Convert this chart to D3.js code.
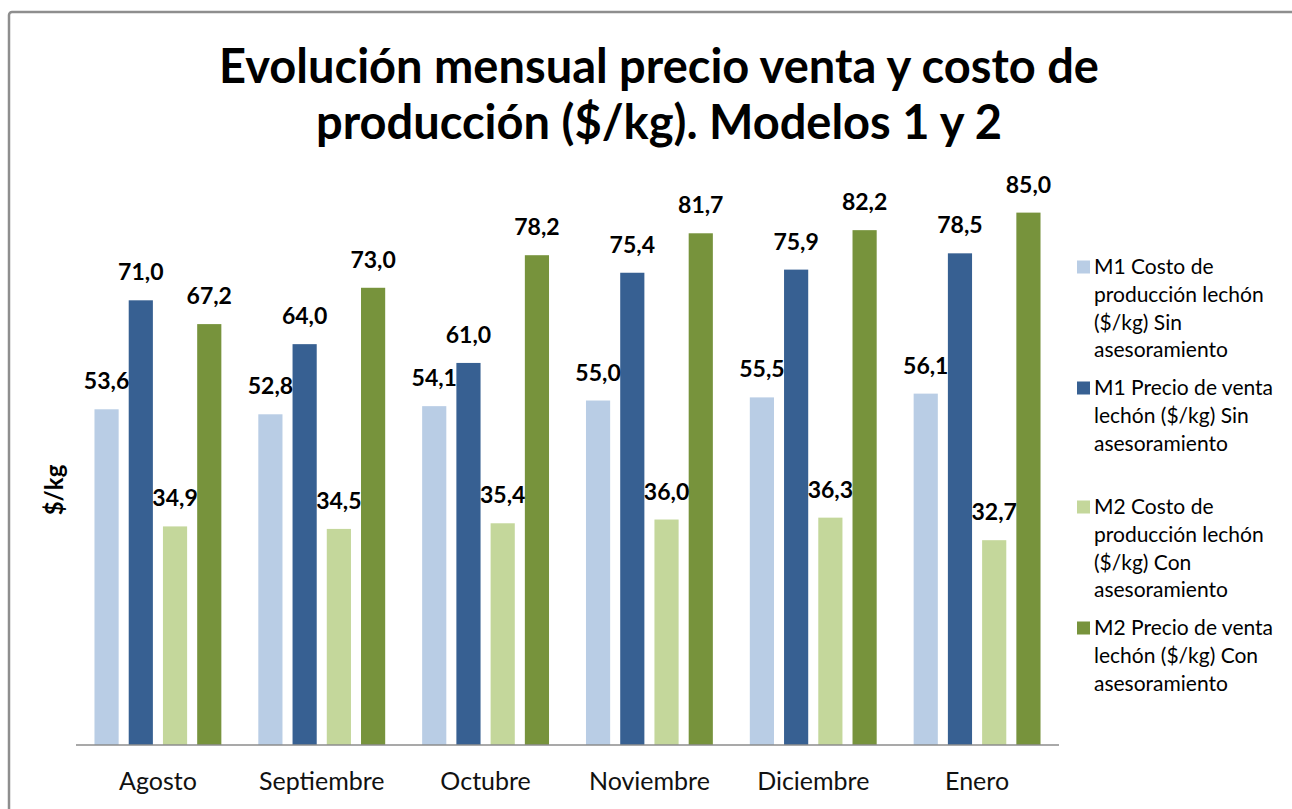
<!DOCTYPE html>
<html>
<head>
<meta charset="utf-8">
<script src="https://cdn.jsdelivr.net/npm/d3@7"></script>
<style>
  body { margin: 0; background: #fff; }
  svg { display: block; font-family: Lato, "Open Sans", sans-serif; }
</style>
</head>
<body>
<div id="chart-area"></div>
<script>
// data
var months = ["Agosto", "Septiembre", "Octubre", "Noviembre", "Diciembre", "Enero"];
var m1Costo  = [53.6, 52.8, 54.1, 55.0, 55.5, 56.1];
var m1Precio = [71.0, 64.0, 61.0, 75.4, 75.9, 78.5];
var m2Costo  = [34.9, 34.5, 35.4, 36.0, 36.3, 32.7];
var m2Precio = [67.2, 73.0, 78.2, 81.7, 82.2, 85.0];
var seriesNames = [
    ["M1 Costo de", "producción lechón", "($/kg) Sin", "asesoramiento"],
    ["M1 Precio de venta", "lechón ($/kg) Sin", "asesoramiento"],
    ["M2 Costo de", "producción lechón", "($/kg) Con", "asesoramiento"],
    ["M2 Precio de venta", "lechón ($/kg) Con", "asesoramiento"]
];
var titleLines = ["Evolución mensual precio venta y costo de", "producción ($/kg). Modelos 1 y 2"];
var yAxisLabel = "$/kg";
var yDomain = [0, 90];

var colors = ["#b9cde5", "#376092", "#c4d79b", "#77933c"];
var seriesValues = [m1Costo, m1Precio, m2Costo, m2Precio];

var svgWidth = 1292, svgHeight = 809;
var plot = { left: 76, right: 1059, top: 181.3, bottom: 745 };

var svg = d3.select("#chart-area")
            .append("svg")
            .attr("width", svgWidth)
            .attr("height", svgHeight);

svg.append("rect")
   .attr("width", svgWidth).attr("height", svgHeight)
   .attr("fill", "#fff");

// chart frame (only top and left visible in the picture)
svg.append("rect")
   .attr("x", 9).attr("y", 12)
   .attr("width", 1320).attr("height", 830)
   .attr("rx", 3)
   .attr("fill", "none")
   .attr("stroke", "#8e8e8e")
   .attr("stroke-width", 2.5);

// title
svg.append("text")
   .attr("x", 659)
   .attr("y", 83)
   .attr("text-anchor", "middle")
   .attr("font-size", "47px")
   .attr("font-weight", "bold")
   .attr("fill", "#000")
   .selectAll("tspan")
   .data(titleLines)
   .enter()
   .append("tspan")
   .attr("x", 659)
   .attr("dy", (d, i) => i === 0 ? 0 : 56)
   .text((d) => d);

var gap = 0.2256;
var x0 = d3.scaleBand()
           .domain(months)
           .range([plot.left, plot.right])
           .paddingInner(gap)
           .paddingOuter(gap / 2);

var x1 = d3.scaleBand()
           .domain(d3.range(seriesValues.length))
           .range([0, x0.bandwidth()])
           .paddingInner(0.294)
           .paddingOuter(0);

var y = d3.scaleLinear()
          .domain(yDomain)
          .range([plot.bottom, plot.top]);

var fmt = (v) => d3.format(".1f")(v).replace(".", ",");

var groups = svg.selectAll("g.month")
                .data(months)
                .enter()
                .append("g")
                .attr("class", "month")
                .attr("transform", (d) => "translate(" + x0(d) + ",0)");

var cells = groups.selectAll("g.bar")
                  .data((d, i) => seriesValues.map((s, k) => ({ k: k, value: s[i] })))
                  .enter()
                  .append("g")
                  .attr("class", "bar");

cells.append("rect")
     .attr("x", (d) => x1(d.k))
     .attr("width", x1.bandwidth())
     .attr("y", (d) => y(d.value))
     .attr("height", (d) => y(0) - y(d.value))
     .attr("fill", (d) => colors[d.k]);

// value labels drawn after all bars so they sit on top
svg.append("g")
   .selectAll("g")
   .data(months)
   .enter()
   .append("g")
   .attr("transform", (d) => "translate(" + x0(d) + ",0)")
   .selectAll("text")
   .data((d, i) => seriesValues.map((s, k) => ({ k: k, value: s[i] })))
   .enter()
   .append("text")
   .attr("x", (d) => x1(d.k) + x1.bandwidth() / 2)
   .attr("y", (d) => y(d.value) - 20)
   .attr("text-anchor", "middle")
   .attr("font-size", "23px")
   .attr("font-weight", "bold")
   .attr("fill", "#000")
   .text((d) => fmt(d.value));

// x axis
var xAxis = svg.append("g")
               .attr("transform", "translate(0," + plot.bottom + ")")
               .call(d3.axisBottom(x0).tickSize(0).tickPadding(0));
xAxis.select(".domain").attr("stroke", "#8c8c8c").attr("stroke-width", 1.5)
     .attr("d", "M" + plot.left + ",0H" + plot.right);
xAxis.selectAll("text")
     .attr("dy", 0)
     .attr("y", 45)
     .attr("font-size", "25px")
     .attr("font-family", "Lato, sans-serif")
     .attr("fill", "#111");

// y axis title
svg.append("text")
   .attr("transform", "translate(63,490) rotate(-90)")
   .attr("text-anchor", "middle")
   .attr("font-size", "24px")
   .attr("font-weight", "bold")
   .attr("fill", "#000")
   .text(yAxisLabel);

// legend
var legendTops = [267, 388, 507, 628];
var lineH = 27.8;
var legend = svg.append("g")
                .selectAll("g")
                .data(seriesNames)
                .enter()
                .append("g")
                .attr("transform", (d, i) => "translate(1077," + legendTops[i] + ")");

legend.append("rect")
      .attr("x", 0).attr("y", -6.5)
      .attr("width", 13).attr("height", 13)
      .attr("fill", (d, i) => colors[i]);

legend.append("text")
      .attr("font-size", "21px")
      .attr("fill", "#000")
      .selectAll("tspan")
      .data((d) => d)
      .enter()
      .append("tspan")
      .attr("x", 17)
      .attr("y", (d, i) => 7 + i * lineH)
      .text((d) => d);
</script>
</body>
</html>
